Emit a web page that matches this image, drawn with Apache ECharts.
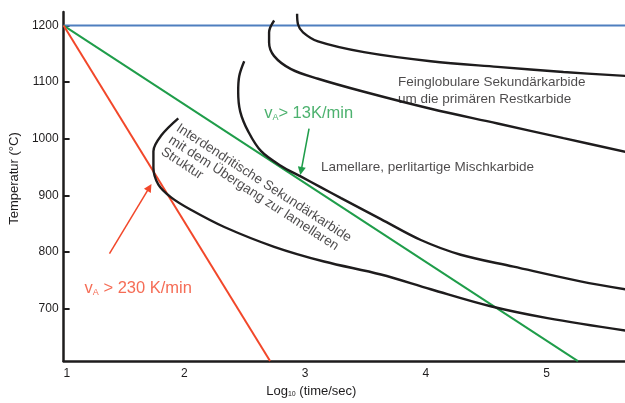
<!DOCTYPE html>
<html><head><meta charset="utf-8">
<script src="https://cdn.jsdelivr.net/npm/echarts@6/dist/echarts.min.js"></script>
<style>html,body{margin:0;padding:0;background:#fff}#c{width:625px;height:403px}</style>
</head><body><div id="c"></div>
<script>
// Tick labels
const xTicks = [1, 2, 3, 4, 5];
const yTicks = [700, 800, 900, 1000, 1100, 1200];

// Straight lines (log10 time, temperature °C)
const solutionTemp = [[1, 1200], [5.65, 1200]];
const cooling13 = [[1, 1200], [5.26, 607]];
const cooling230 = [[1, 1200], [2.71, 607]];

// Transformation curves
const curveA = [[2.934,1221],[2.942,1202],[2.983,1188],[3.107,1172],[3.488,1153],[4.041,1137],[4.595,1127],[5.140,1118],[5.653,1111]];
const curveB = [[2.744,1209],[2.702,1188],[2.702,1170],[2.744,1146],[2.884,1123],[3.107,1106],[3.488,1083],[4.041,1053],[4.595,1027],[5.140,1001],[5.653,977]];
const curveC = [[2.496,1137],[2.455,1111],[2.446,1083],[2.463,1048],[2.529,1013],[2.636,978],[2.802,952],[2.967,933],[3.132,914],[3.298,895],[3.628,858],[3.959,821],[4.289,795],[4.727,774],[5.281,748],[5.653,734]];
const curveD = [[1.950,1036],[1.810,1006],[1.744,978],[1.744,949],[1.785,919],[1.893,896],[2.058,874],[2.331,844],[2.744,809],[3.157,783],[3.628,760],[4.041,734],[4.537,704],[5.008,683],[5.653,661]];

// Arrows (from, to)
const arrowRed = [[1.380, 797], [1.711, 914]];
const arrowGreen = [[3.033, 1018], [2.967, 943]];

// Annotation anchors (data coords)
const txtFein = [3.769, 1084];
const txtLam = [3.132, 949];
const txtGreen = [2.661, 1044];
const txtRed = [1.174, 735];
const txtInter = [1.975, 1031];

const FONT = 'Liberation Sans, Arial, Helvetica, sans-serif';
const INK = '#1e1c1d';
const GREEN = '#1f9d4a';
const RED = '#f2472a';
const BLUE = '#4f7fbf';

const chart = echarts.init(document.getElementById('c'), null, {renderer: 'canvas'});

function curve(name, data) {
  return {name, type: 'line', data, smooth: 0.35, symbol: 'none', z: 5,
    lineStyle: {color: INK, width: 2.4}};
}
function straight(name, data, color, w) {
  return {name, type: 'line', data, symbol: 'none', z: 3, lineStyle: {color, width: w}};
}
function arrow(data, color) {
  return {type: 'lines', coordinateSystem: 'cartesian2d', z: 6,
    symbol: ['none', 'triangle'], symbolSize: 8,
    lineStyle: {color, width: 1.5, opacity: 1},
    data: [{coords: data}]};
}
function lbl(pos, text, opts) {
  return {value: pos, label: Object.assign({show: true, formatter: text, position: [0, 0],
    align: 'left', verticalAlign: 'middle', fontFamily: FONT, color: INK, fontSize: 13.5}, opts)};
}

const subRich = (color, size) => ({
  n: {fontSize: size, color, fontFamily: FONT},
  s: {fontSize: Math.round(size * 0.55), color, fontFamily: FONT, padding: [Math.round(size*0.45), 0, 0, 0]}
});

chart.setOption({
  animation: false,
  grid: {left: 62, right: 0, top: 12, bottom: 37},
  xAxis: {
    type: 'value', min: 1, max: 5.65,
    name: '{n|Log}{s|10}{n| (time/sec)}', nameLocation: 'middle', nameGap: 20,
    nameTextStyle: {rich: subRich(INK, 13), padding: [0, 66, 0, 0]},
    axisLine: {show: true, lineStyle: {color: INK, width: 2.5}},
    axisTick: {show: false},
    splitLine: {show: false},
    axisLabel: {customValues: xTicks, color: INK, fontSize: 12, fontFamily: FONT, margin: 7,
      alignMinLabel: 'left', formatter: v => String(v)}
  },
  yAxis: {
    type: 'value', min: 607, max: 1224,
    name: 'Temperatur (°C)', nameLocation: 'middle', nameGap: 38,
    nameTextStyle: {color: INK, fontSize: 13, fontFamily: FONT, padding: [0, 0, 0, 16]},
    axisLine: {show: true, lineStyle: {color: INK, width: 2.5}},
    axisTick: {show: true, inside: true, length: 6, customValues: yTicks, lineStyle: {color: INK, width: 2}},
    splitLine: {show: false},
    axisLabel: {customValues: yTicks, color: INK, fontSize: 12, fontFamily: FONT, margin: 5,
      formatter: v => String(v)}
  },
  series: [
    straight('1200', solutionTemp, BLUE, 2),
    straight('13K', cooling13, GREEN, 2),
    straight('230K', cooling230, RED, 2),
    curve('A', curveA), curve('B', curveB), curve('C', curveC), curve('D', curveD),
    arrow(arrowRed, RED), arrow(arrowGreen, GREEN),
    {type: 'scatter', symbolSize: 0, z: 7, silent: true, data: [
      lbl(txtFein, 'Feinglobulare Sekundärkarbide\num die primären Restkarbide', {lineHeight: 17}),
      lbl(txtLam, 'Lamellare, perlitartige Mischkarbide', {}),
      lbl(txtGreen, '{n|v}{s|A}{n|> 13K/min}', {rich: subRich(GREEN, 16.5)}),
      lbl(txtRed, '{n|v}{s|A}{n| > 230 K/min}', {rich: subRich(RED, 16.5)}),
      lbl(txtInter, 'Interdendritische Sekundärkarbide\nmit dem Übergang zur lamellaren\nStruktur',
        {rotate: -33, verticalAlign: 'top', lineHeight: 14})
    ]}
  ]
});
</script></body></html>
